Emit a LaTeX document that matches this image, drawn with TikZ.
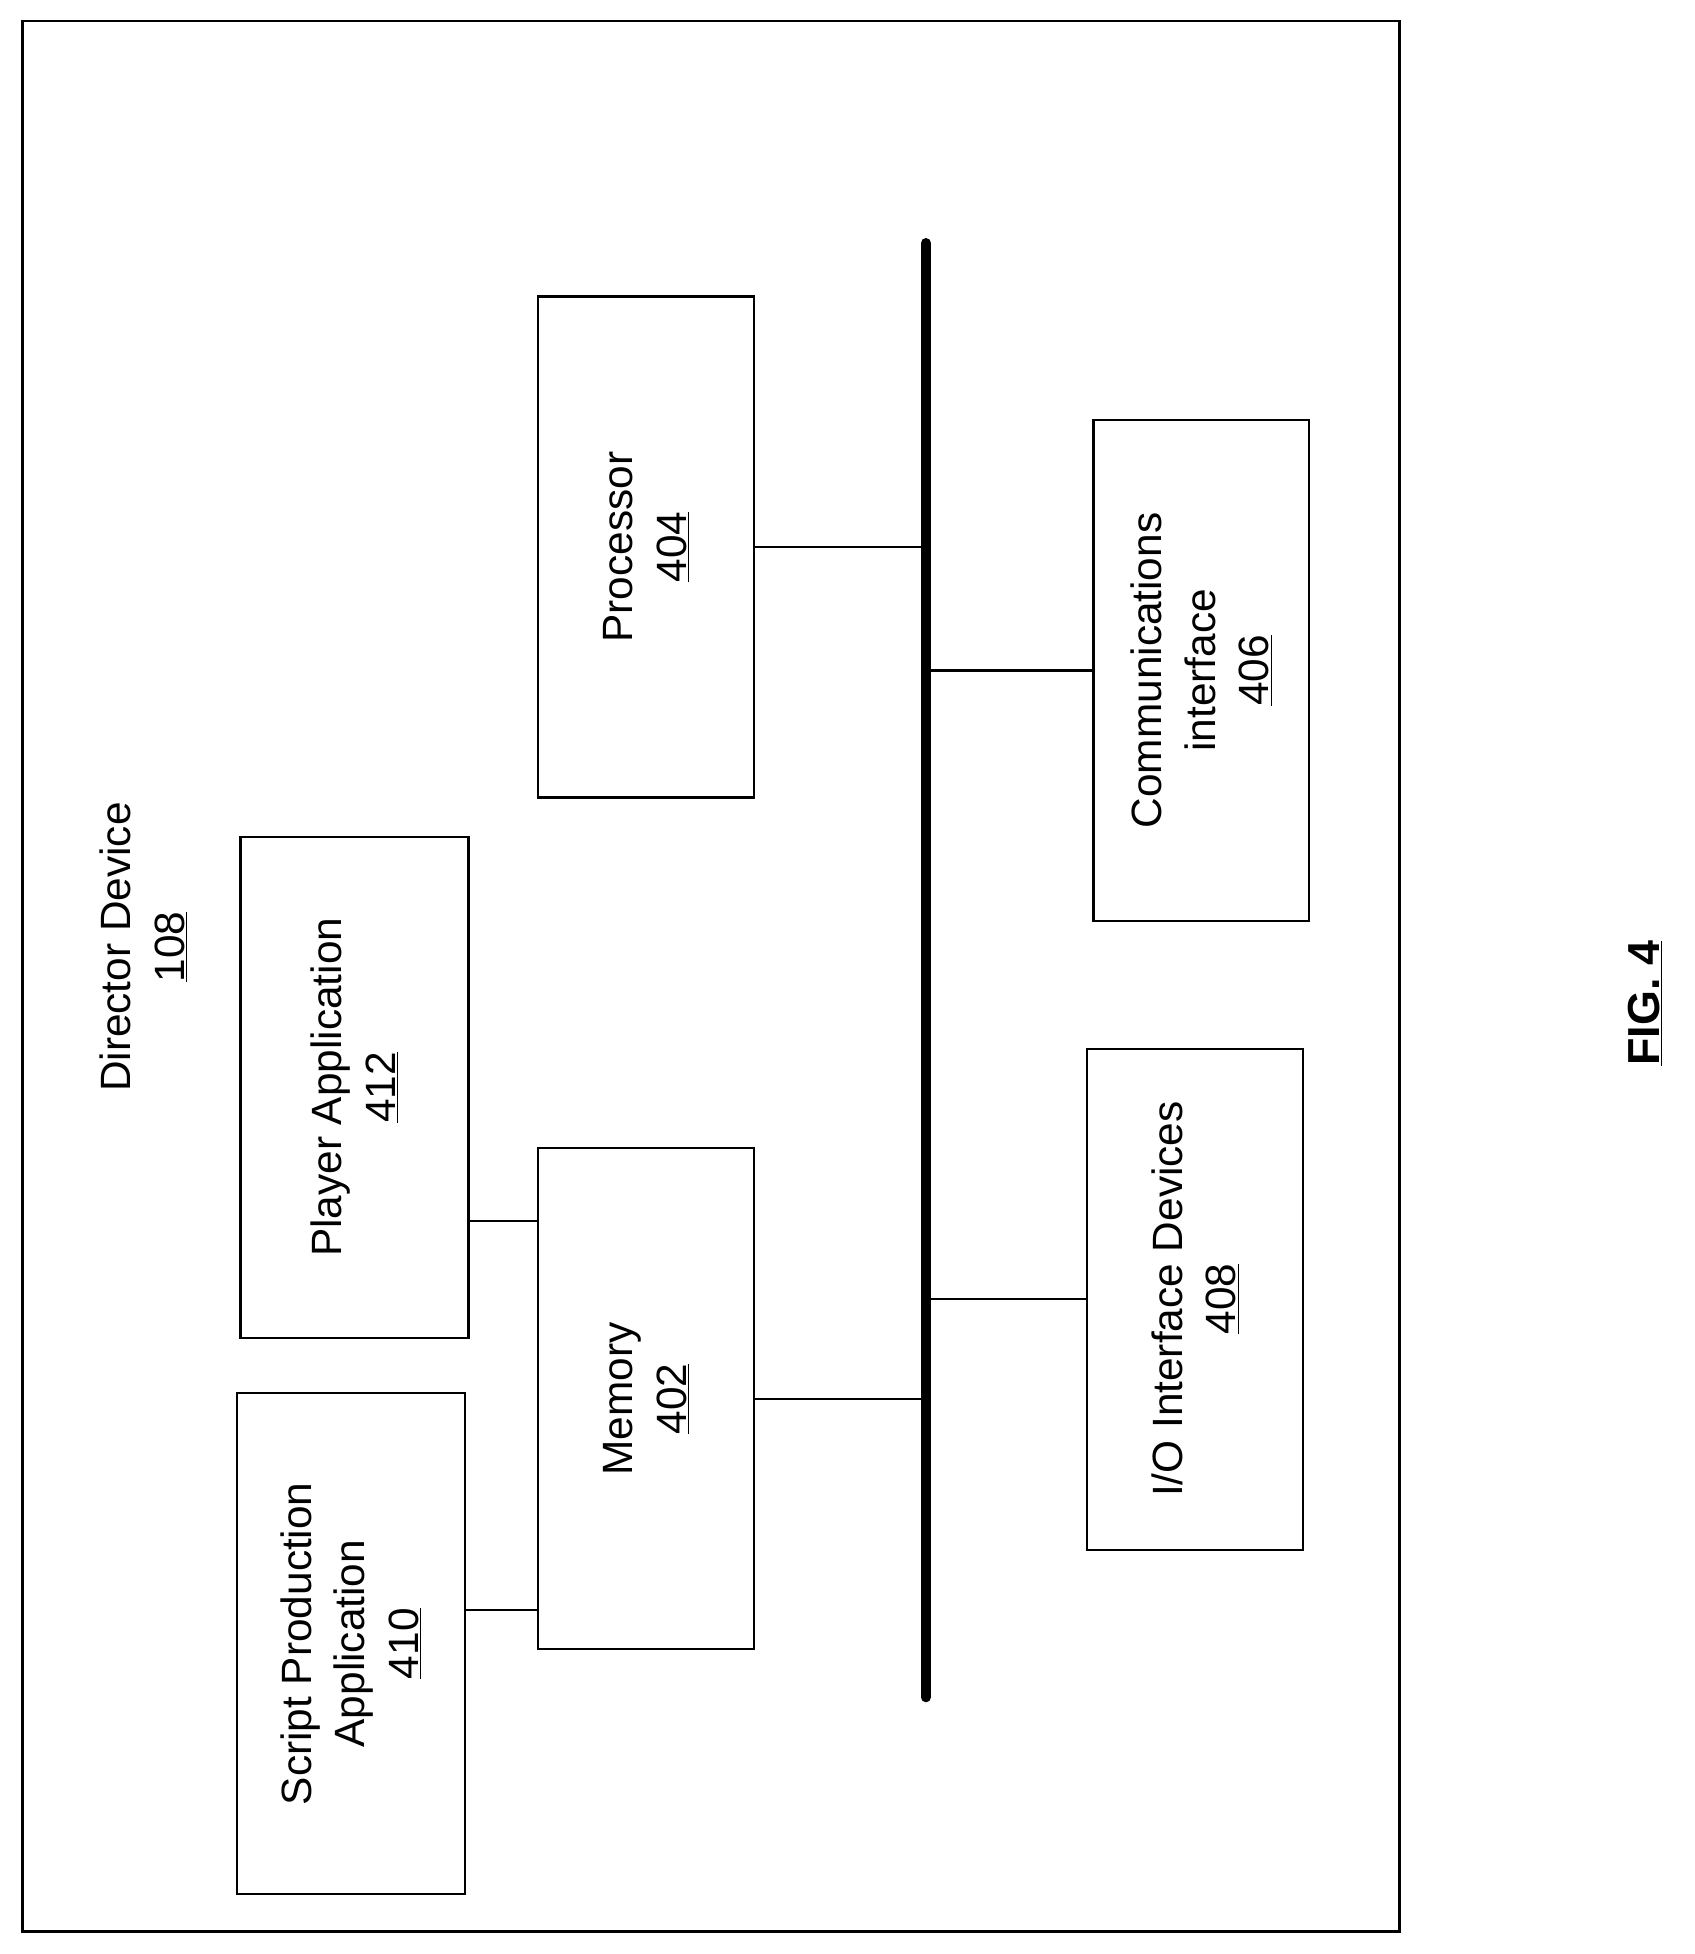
\documentclass[tikz,border=0pt]{standalone}
\usepackage{fontspec}
\setmainfont{Liberation Sans}
\begin{document}
\begin{tikzpicture}[x=1pt,y=1pt,
  box/.style={draw,line width=1.8pt,rotate=90,minimum width=402pt,minimum height=173pt,align=center,inner sep=0pt,font=\fontsize{34}{43}\selectfont},
  lbl/.style={rotate=90,align=center,font=\fontsize{34}{43}\selectfont},
  ln/.style={line width=1.8pt}]
\useasboundingbox (0,0) rectangle (1360,-1568);
\draw[line width=2pt] (18,-17) rectangle (1123,-1550);
\node[lbl] (dd) at (115,-760) {Director Device\\\underline{108}};
\node[box,minimum height=183pt] (script) at (281.5,-1319) {Script Production\\Application\\\underline{410}};
\node[box,minimum height=183pt] (player) at (284.5,-872.5) {Player Application\\\underline{412}};
\node[box] (mem) at (518.5,-1122.5) {Memory\\\underline{402}};
\node[box] (proc) at (518.5,-439) {Processor\\\underline{404}};
\node[box] (comm) at (964,-538) {Communications\\interface\\\underline{406}};
\node[box] (io) at (959,-1042.5) {I/O Interface Devices\\\underline{408}};
\coordinate (bt) at (743,-195);
\coordinate (bb) at (743,-1362);
\draw[line width=8pt,line cap=round] (bt) -- (bb);
\draw[ln] (proc.south) -- (proc.south -| bt);
\draw[ln] (mem.south) -- (mem.south -| bt);
\draw[ln] (comm.north -| bt) -- (comm.north);
\draw[ln] (io.north -| bt) -- (io.north);
\draw[ln] (player.south |- 0,-980) -- (mem.north |- 0,-980);
\draw[ln] (script.south |- 0,-1292) -- (mem.north |- 0,-1292);
\node[lbl,font=\fontsize{36}{43}\selectfont\bfseries] (fig) at (1320,-805) {\underline{FIG. 4}};
\end{tikzpicture}
\end{document}
